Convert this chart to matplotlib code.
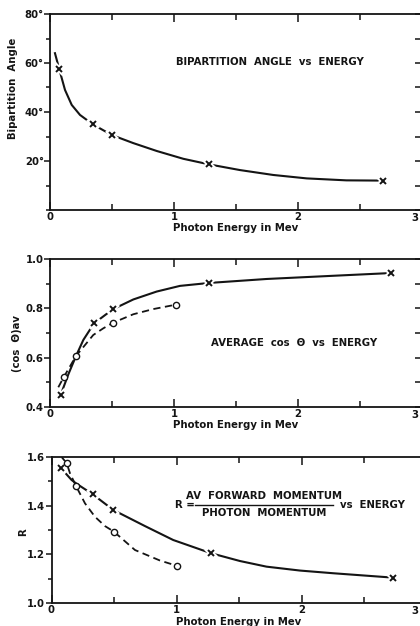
import numpy as np
import matplotlib
matplotlib.use("Agg")
import matplotlib.pyplot as plt
from matplotlib.ticker import MultipleLocator

# bipartition angle (degrees) vs photon energy (Mev)
angle_pts_e = [0.075, 0.344, 0.498, 1.285, 2.688]
angle_pts_v = [57.4, 35.0, 30.6, 18.6, 12.0]
angle_curve_e = [0.040, 0.075, 0.121, 0.175, 0.242, 0.344, 0.498, 0.672,
                 0.86, 1.075, 1.285, 1.532, 1.80, 2.07, 2.39, 2.688]
angle_curve_v = [64.0, 57.4, 49.0, 42.9, 38.8, 35.0, 30.6, 27.3,
                 24.1, 20.9, 18.6, 16.3, 14.3, 12.9, 12.1, 12.0]

# average cos theta vs energy
cos_pts_e = [0.086, 0.355, 0.506, 1.285, 2.747]
cos_pts_v = [0.449, 0.739, 0.796, 0.903, 0.943]
cos_curve_e = [0.086, 0.15, 0.21, 0.269, 0.355, 0.506, 0.672, 0.86,
               1.048, 1.285, 1.747, 2.285, 2.747]
cos_curve_v = [0.449, 0.535, 0.607, 0.672, 0.739, 0.796, 0.836, 0.868,
               0.891, 0.903, 0.919, 0.932, 0.943]
cos_circ_e = [0.113, 0.21, 0.51, 1.016]
cos_circ_v = [0.523, 0.607, 0.742, 0.815]
cos_dash_e = [0.067, 0.113, 0.21, 0.349, 0.43, 0.51, 0.672, 0.833, 1.016]
cos_dash_v = [0.480, 0.523, 0.607, 0.692, 0.719, 0.742, 0.776, 0.797, 0.815]

# R = av forward momentum / photon momentum
r_pts_e = [0.076, 0.33, 0.494, 1.276, 2.734]
r_pts_v = [1.553, 1.446, 1.382, 1.205, 1.105]
r_curve_e = [0.076, 0.16, 0.196, 0.33, 0.494, 0.748, 0.974, 1.276, 1.508,
             1.72, 1.988, 2.254, 2.734]
r_curve_v = [1.553, 1.505, 1.491, 1.446, 1.382, 1.316, 1.259, 1.205, 1.173,
             1.150, 1.134, 1.123, 1.105]
r_circ_e = [0.122, 0.196, 0.5, 1.006]
r_circ_v = [1.573, 1.480, 1.293, 1.153]
r_dash_e = [0.082, 0.122, 0.148, 0.196, 0.268, 0.348, 0.428, 0.5, 0.668,
            0.868, 1.006]
r_dash_v = [1.598, 1.573, 1.532, 1.480, 1.409, 1.354, 1.316, 1.293, 1.218,
            1.175, 1.153]

angle_ticks = [20, 40, 60, 80]
angle_labels = ["20°", "40°", "60°", "80°"]
cos_ticks = [0.4, 0.6, 0.8, 1.0]
cos_labels = ["0.4", "0.6", "0.8", "1.0"]
r_ticks = [1.0, 1.2, 1.4, 1.6]
r_labels = ["1.0", "1.2", "1.4", "1.6"]
e_ticks = [0, 1, 2, 3]
e_labels = ["0", "1", "2", "3"]

plt.rcParams["font.family"] = ["DejaVu Sans"]
plt.rcParams["font.weight"] = "bold"
plt.rcParams["axes.labelweight"] = "bold"
FS = 7.3
INK = "#141414"

fig = plt.figure(figsize=(4.2, 6.26), dpi=100)
W, H = 420.0, 626.0


def make_axes(left, top, bottom, x3):
    # pixel box -> figure fraction
    return fig.add_axes([left / W, 1 - bottom / H, (x3 - left) / W, (bottom - top) / H])


def style(ax, ylim, yticks, ylabels, yminor):
    ax.set_xlim(0, 3)
    ax.set_ylim(*ylim)
    for s in ax.spines.values():
        s.set_linewidth(1.3)
        s.set_color(INK)
    # last energy label sits at the paper edge, drawn separately below
    ax.set_xticks(e_ticks, e_labels[:-1] + [""])
    ax.annotate(e_labels[-1], xy=(1.0, 0), xycoords=("figure fraction", "axes fraction"),
                xytext=(-1.2, -2.2), textcoords="offset points", ha="right", va="top",
                fontsize=FS, color=INK, annotation_clip=False)
    ax.xaxis.set_minor_locator(MultipleLocator(0.5))
    ax.set_yticks(yticks, ylabels)
    ax.yaxis.set_minor_locator(MultipleLocator(yminor))
    ax.tick_params(axis="x", which="both", direction="in", top=True, bottom=True,
                   labelsize=FS, pad=1.5, colors=INK, width=1.1)
    ax.tick_params(axis="x", which="major", length=6)
    ax.tick_params(axis="x", which="minor", length=4)
    ax.tick_params(axis="y", which="both", direction="out", left=True, right=False,
                   labelsize=FS, pad=0.5, colors=INK, width=1.1)
    ax.tick_params(axis="y", which="major", length=4)
    ax.tick_params(axis="y", which="minor", length=3)
    # inward ticks on the right hand side
    ax2 = ax.secondary_yaxis("right")
    ax2.yaxis.set_major_locator(MultipleLocator(yminor))
    ax2.tick_params(direction="in", length=5, width=1.1, labelright=False, colors=INK)
    ax2.spines["right"].set_linewidth(1.3)
    ax.set_xlabel("Photon Energy in Mev", fontsize=FS, labelpad=1, color=INK)


def x_marks(ax, e, v):
    ax.plot(e, v, "x", color="white", ms=7, mew=4, zorder=3)
    ax.plot(e, v, "x", color=INK, ms=5, mew=1.4, zorder=4)


def o_marks(ax, e, v):
    ax.plot(e, v, "o", mfc="white", mec=INK, ms=4.5, mew=1.0, zorder=4)


# top panel
ax1 = make_axes(50, 14, 210, 422)
style(ax1, (0, 80), angle_ticks, angle_labels, 10)
ax1.plot(angle_curve_e, angle_curve_v, color=INK, lw=1.5, zorder=2,
         solid_joinstyle="round")
x_marks(ax1, angle_pts_e, angle_pts_v)
ax1.set_ylabel("Bipartition  Angle", fontsize=FS, color=INK)
ax1.yaxis.set_label_coords(-0.086, 0.62)
ax1.text(1.77, 60.5, "BIPARTITION  ANGLE  vs  ENERGY", fontsize=FS,
         ha="center", va="center", color=INK)

# middle panel
ax2 = make_axes(50, 259, 407, 422)
style(ax2, (0.4, 1.0), cos_ticks, cos_labels, 0.1)
ax2.plot(cos_curve_e, cos_curve_v, color=INK, lw=1.5, zorder=2,
         solid_joinstyle="round")
ax2.plot(cos_dash_e, cos_dash_v, color=INK, lw=1.3, dashes=(4, 2.5), zorder=2)
x_marks(ax2, cos_pts_e, cos_pts_v)
o_marks(ax2, cos_circ_e, cos_circ_v)
ax2.set_ylabel("(cos  Θ)av", fontsize=FS, color=INK)
ax2.yaxis.set_label_coords(-0.075, 0.43)
ax2.text(1.97, 0.66, "AVERAGE  cos  Θ  vs  ENERGY", fontsize=FS,
         ha="center", va="center", color=INK)

# bottom panel
ax3 = make_axes(51.5, 456.7, 603.3, 426.5)
style(ax3, (1.0, 1.6), r_ticks, r_labels, 0.1)
ax3.plot(r_curve_e, r_curve_v, color=INK, lw=1.5, zorder=2,
         solid_joinstyle="round")
ax3.plot(r_dash_e, r_dash_v, color=INK, lw=1.3, dashes=(4, 2.5), zorder=2)
x_marks(ax3, r_pts_e, r_pts_v)
o_marks(ax3, r_circ_e, r_circ_v)
ax3.set_ylabel("R", fontsize=FS, color=INK)
ax3.yaxis.set_label_coords(-0.063, 0.486)
ax3.text(0.99, 1.403, "R =", fontsize=FS, ha="left", va="center", color=INK)
ax3.text(1.70, 1.438, "AV  FORWARD  MOMENTUM", fontsize=FS,
         ha="center", va="center", color=INK)
ax3.text(1.70, 1.368, "PHOTON  MOMENTUM", fontsize=FS,
         ha="center", va="center", color=INK)
ax3.plot([1.15, 2.25], [1.404, 1.404], color=INK, lw=1.0)
ax3.text(2.31, 1.403, "vs  ENERGY", fontsize=FS, ha="left", va="center", color=INK)

fig.savefig("out.png", dpi=100)
